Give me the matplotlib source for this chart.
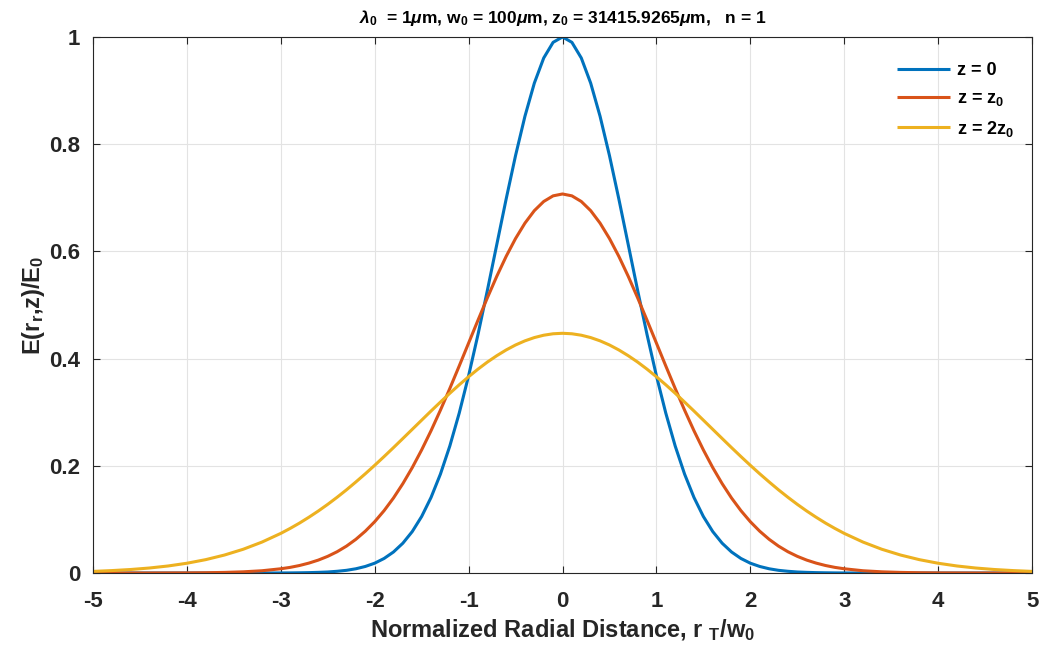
import matplotlib
matplotlib.use("Agg")
import matplotlib.pyplot as plt

plt.rcParams['font.family'] = ['Liberation Sans', 'DejaVu Sans']
plt.rcParams['font.weight'] = 'bold'
plt.rcParams['axes.unicode_minus'] = False
plt.rcParams['mathtext.fontset'] = 'custom'
plt.rcParams['mathtext.rm'] = 'Liberation Sans:bold'
plt.rcParams['mathtext.bf'] = 'Liberation Sans:bold'
plt.rcParams['mathtext.it'] = 'Liberation Sans:italic:bold'
plt.rcParams['mathtext.default'] = 'bf'

# Normalized radial distance r_T / w_0
x_vals = [-5.0, -4.8, -4.6, -4.4, -4.2, -4.0, -3.8, -3.6, -3.4, -3.2,
          -3.0, -2.9, -2.8, -2.7, -2.6, -2.5, -2.4, -2.3, -2.2, -2.1, -2.0,
          -1.9, -1.8, -1.7, -1.6, -1.5, -1.4, -1.3, -1.2, -1.1, -1.0,
          -0.9, -0.8, -0.7, -0.6, -0.5, -0.4, -0.3, -0.2, -0.1,
          0.0,
          0.1, 0.2, 0.3, 0.4, 0.5, 0.6, 0.7, 0.8, 0.9,
          1.0, 1.1, 1.2, 1.3, 1.4, 1.5, 1.6, 1.7, 1.8, 1.9,
          2.0, 2.1, 2.2, 2.3, 2.4, 2.5, 2.6, 2.7, 2.8, 2.9, 3.0,
          3.2, 3.4, 3.6, 3.8, 4.0, 4.2, 4.4, 4.6, 4.8, 5.0]

# z = 0
e_z0 = [0.0, 0.0, 0.0, 0.0, 0.0, 0.0, 0.0, 0.0, 0.0, 0.0,
        0.0001, 0.0002, 0.0004, 0.0007, 0.0012, 0.0019, 0.0032, 0.0050, 0.0079, 0.0122, 0.0183,
        0.0271, 0.0392, 0.0556, 0.0773, 0.1054, 0.1409, 0.1845, 0.2369, 0.2982, 0.3679,
        0.4449, 0.5273, 0.6126, 0.6977, 0.7788, 0.8521, 0.9139, 0.9608, 0.9900,
        1.0,
        0.9900, 0.9608, 0.9139, 0.8521, 0.7788, 0.6977, 0.6126, 0.5273, 0.4449,
        0.3679, 0.2982, 0.2369, 0.1845, 0.1409, 0.1054, 0.0773, 0.0556, 0.0392, 0.0271,
        0.0183, 0.0122, 0.0079, 0.0050, 0.0032, 0.0019, 0.0012, 0.0007, 0.0004, 0.0002, 0.0001,
        0.0, 0.0, 0.0, 0.0, 0.0, 0.0, 0.0, 0.0, 0.0, 0.0]

# z = z0
e_z1 = [0.0, 0.0, 0.0, 0.0, 0.0001, 0.0002, 0.0005, 0.0011, 0.0022, 0.0042,
        0.0079, 0.0105, 0.0140, 0.0185, 0.0241, 0.0311, 0.0397, 0.0502, 0.0629, 0.0780, 0.0957,
        0.1163, 0.1399, 0.1667, 0.1966, 0.2296, 0.2654, 0.3038, 0.3442, 0.3862, 0.4289,
        0.4716, 0.5134, 0.5535, 0.5907, 0.6240, 0.6527, 0.6760, 0.6931, 0.7036,
        0.7071,
        0.7036, 0.6931, 0.6760, 0.6527, 0.6240, 0.5907, 0.5535, 0.5134, 0.4716,
        0.4289, 0.3862, 0.3442, 0.3038, 0.2654, 0.2296, 0.1966, 0.1667, 0.1399, 0.1163,
        0.0957, 0.0780, 0.0629, 0.0502, 0.0397, 0.0311, 0.0241, 0.0185, 0.0140, 0.0105, 0.0079,
        0.0042, 0.0022, 0.0011, 0.0005, 0.0002, 0.0001, 0.0, 0.0, 0.0, 0.0]

# z = 2 z0
e_z2 = [0.0030, 0.0045, 0.0065, 0.0093, 0.0131, 0.0182, 0.0249, 0.0335, 0.0443, 0.0577,
        0.0739, 0.0832, 0.0932, 0.1041, 0.1157, 0.1281, 0.1413, 0.1552, 0.1699, 0.1851, 0.2009,
        0.2172, 0.2339, 0.2509, 0.2680, 0.2851, 0.3022, 0.3189, 0.3353, 0.3511, 0.3661,
        0.3803, 0.3935, 0.4054, 0.4161, 0.4254, 0.4331, 0.4392, 0.4436, 0.4463,
        0.4472,
        0.4463, 0.4436, 0.4392, 0.4331, 0.4254, 0.4161, 0.4054, 0.3935, 0.3803,
        0.3661, 0.3511, 0.3353, 0.3189, 0.3022, 0.2851, 0.2680, 0.2509, 0.2339, 0.2172,
        0.2009, 0.1851, 0.1699, 0.1552, 0.1413, 0.1281, 0.1157, 0.1041, 0.0932, 0.0832, 0.0739,
        0.0577, 0.0443, 0.0335, 0.0249, 0.0182, 0.0131, 0.0093, 0.0065, 0.0045, 0.0030]

series_labels = [r'z = 0', r'z = z$_0$', r'z = 2z$_0$']
colors = ['#0072BD', '#D95319', '#EDB120']
x_ticks = [-5, -4, -3, -2, -1, 0, 1, 2, 3, 4, 5]
y_ticks = [0, 0.2, 0.4, 0.6, 0.8, 1]
y_tick_labels = ['0', '0.2', '0.4', '0.6', '0.8', '1']

fig = plt.figure(figsize=(10.41, 6.59), dpi=100)
ax = fig.add_axes([0.0893, 0.1305, 0.9021, 0.8134])

for ys, lab, c in zip([e_z0, e_z1, e_z2], series_labels, colors):
    ax.plot(x_vals, ys, color=c, lw=2.2, label=lab,
            solid_joinstyle='round', solid_capstyle='butt')

ax.set_xlim(-5, 5)
ax.set_ylim(0, 1)
ax.set_xticks(x_ticks)
ax.set_yticks(y_ticks)
ax.set_yticklabels(y_tick_labels)
ax.grid(True, color='#e3e3e3', lw=0.8)
ax.set_axisbelow(True)
for s in ax.spines.values():
    s.set_color('#262626')
    s.set_linewidth(0.8)
ax.tick_params(direction='in', length=5, width=0.8, colors='#262626',
               labelsize=16, top=True, right=True)
ax.tick_params(axis='x', pad=13)
ax.tick_params(axis='y', pad=9)
for t in ax.get_xticklabels() + ax.get_yticklabels():
    t.set_fontweight('bold')

ax.set_xlabel(r'Normalized Radial Distance, r $_T$/w$_0$', fontsize=17,
              fontweight='bold', color='#262626', labelpad=4)
ax.set_ylabel(r'E(r$_r$,z)/E$_0$', fontsize=17, fontweight='bold',
              color='#262626', labelpad=2)
ax.set_title(r'$\it{\lambda}_0$  = 1$\it{\mu}$m, w$_0$ = 100$\it{\mu}$m, z$_0$ = 31415.9265$\it{\mu}$m,   n = 1',
             fontsize=12.5, fontweight='bold', color='#000000', pad=10)

leg = ax.legend(loc='upper right', bbox_to_anchor=(1.0, 0.987), frameon=False,
                fontsize=13, handlelength=2.9, borderaxespad=0.6,
                labelspacing=0.6, handletextpad=0.4)
for t in leg.get_texts():
    t.set_fontweight('bold')

fig.savefig('out.png', dpi=100)
